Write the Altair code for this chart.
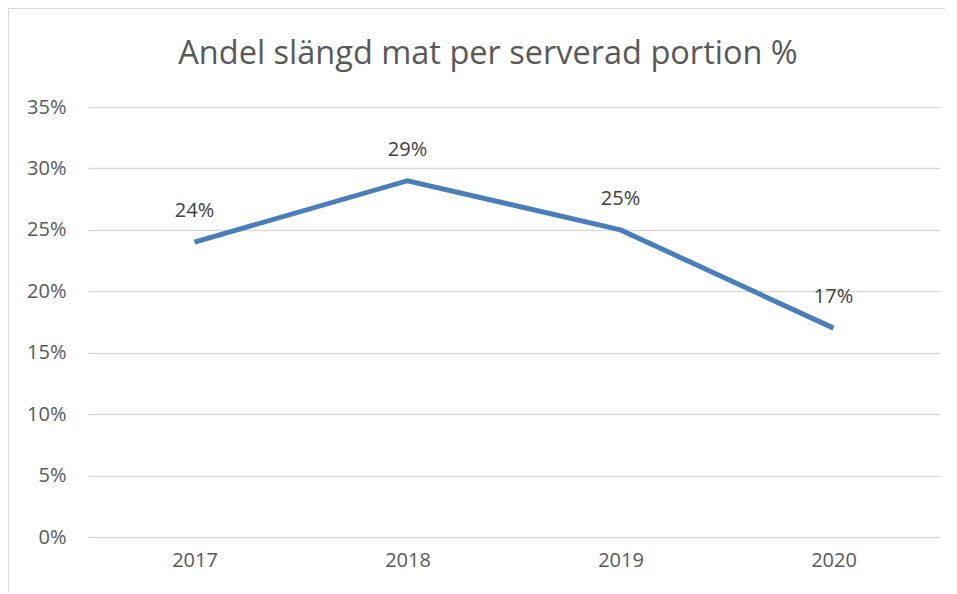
import altair as alt
import pandas as pd

years = ["2017", "2018", "2019", "2020"]
shares = [0.24, 0.29, 0.25, 0.17]
y_ticks = [0, 0.05, 0.10, 0.15, 0.20, 0.25, 0.30, 0.35]
title_text = ["Andel slängd mat per serverad portion %"]

df = pd.DataFrame({"year": years, "share": shares})
tdf = pd.DataFrame({"t": title_text})

FONT = "Open Sans"
GRID = "#d9d9d9"

x_enc = alt.X("year:O", title=None,
              scale=alt.Scale(type="point", padding=0.5),
              axis=alt.Axis(labelAngle=0, labelFontSize=20, labelColor="#595959",
                            labelFont=FONT, labelPadding=13, ticks=False,
                            domain=False, grid=False))
y_enc = alt.Y("share:Q", title=None,
              scale=alt.Scale(domain=[0, 0.35], nice=False),
              axis=alt.Axis(values=y_ticks, format=".0%", labelFontSize=20,
                            labelColor="#595959", labelFont=FONT, labelPadding=22,
                            ticks=False, domain=False, grid=True, gridColor=GRID,
                            gridWidth=1.5))

border = alt.Chart(df).mark_rect(fill=None, stroke=GRID, strokeWidth=1.5).encode(
    x=alt.value(-80), x2=alt.value(960), y=alt.value(-99), y2=alt.value(600)
)

title = alt.Chart(tdf).mark_text(fontSize=32.5, font=FONT, color="#595959",
                                 baseline="alphabetic", align="center").encode(
    x=alt.value(400), y=alt.value(-43), text="t:N"
)

line = alt.Chart(df).mark_line(color="#4A7EBB", strokeWidth=5).encode(
    x=x_enc, y=y_enc
)

labels = alt.Chart(df).mark_text(dy=-31, fontSize=20, font=FONT, color="#404040").encode(
    x=alt.X("year:O", scale=alt.Scale(type="point", padding=0.5)),
    y="share:Q",
    text=alt.Text("share:Q", format=".0%"),
)

chart = alt.layer(line, labels, border, title).properties(
    width=852, height=430,
    autosize=alt.AutoSizeParams(type="none"),
    padding={"left": 80, "top": 99, "right": 5, "bottom": 55},
).configure_view(stroke=None)

chart.save("out.html", embed_options={"renderer": "svg", "actions": False})
